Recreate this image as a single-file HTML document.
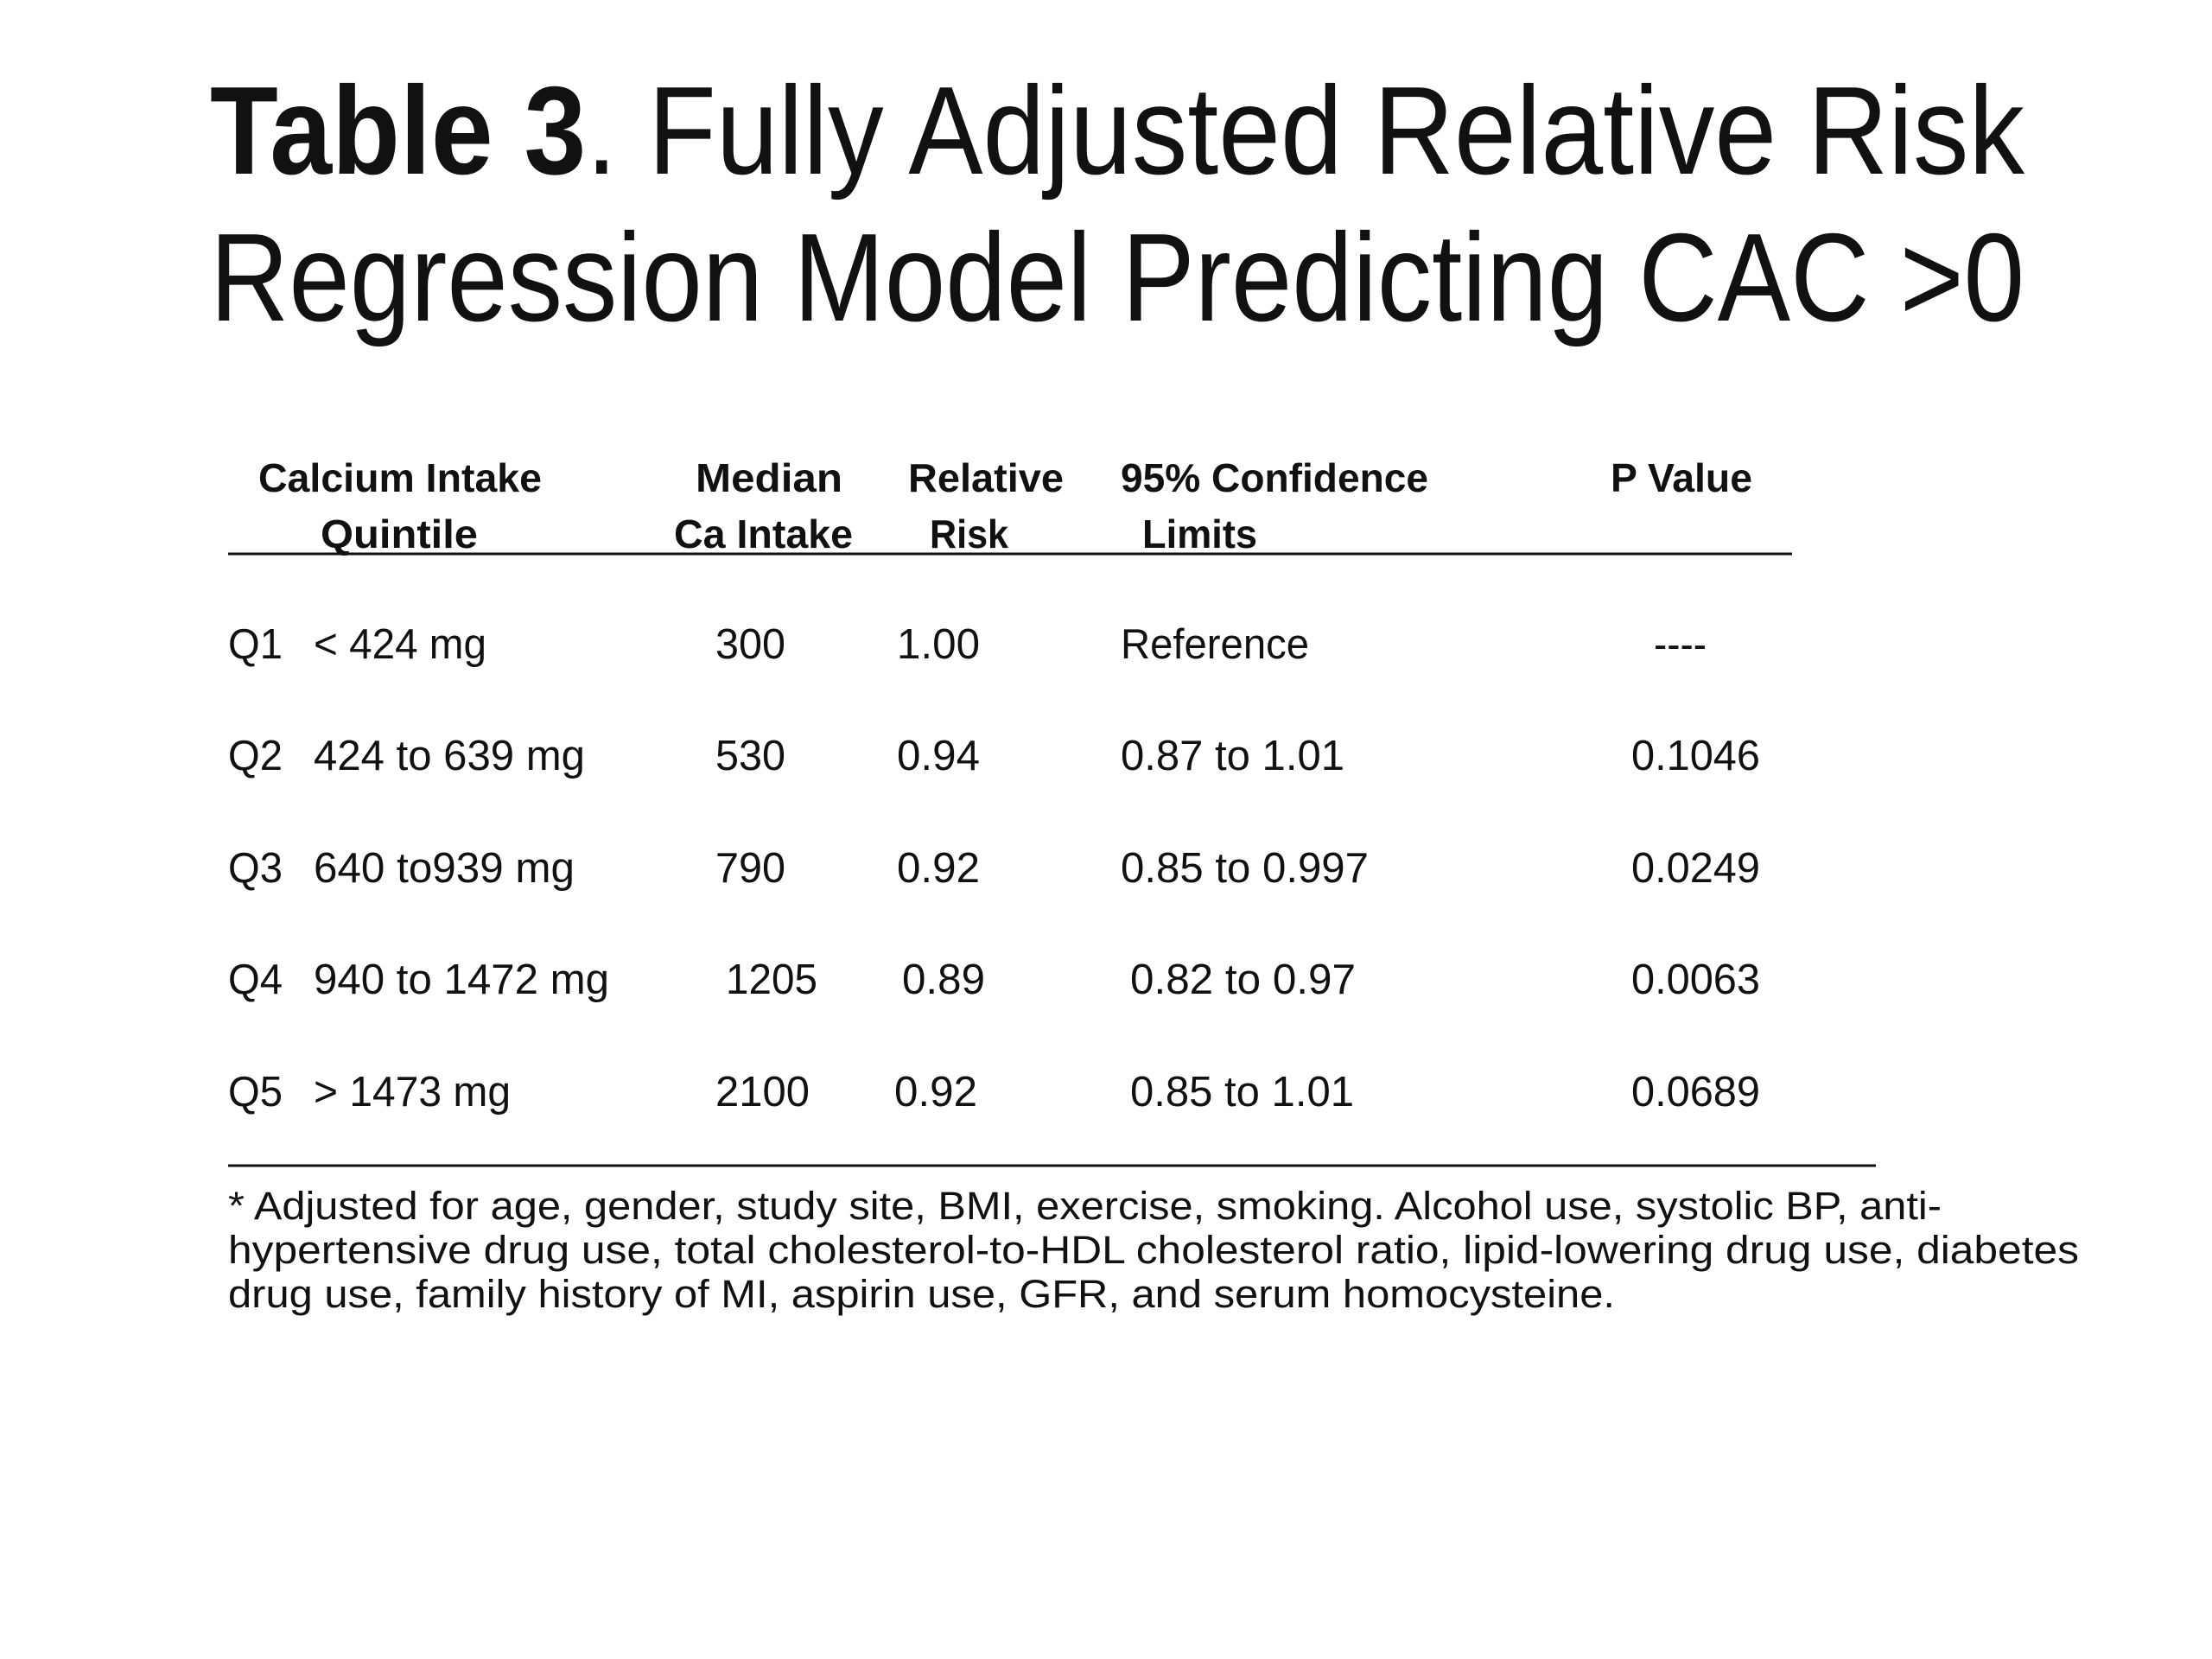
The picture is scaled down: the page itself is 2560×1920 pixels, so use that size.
<!DOCTYPE html>
<html><head><meta charset="utf-8"><style>
html,body{margin:0;padding:0;background:#fff;}
svg{display:block;}
text{font-family:"Liberation Sans",sans-serif;fill:#111;}
.h{font-weight:bold;font-size:46px;}
.d{font-size:49px;}
.f{font-size:45px;}
</style></head><body>
<svg width="2560" height="1920" viewBox="0 0 2560 1920">
<rect width="2560" height="1920" fill="#fff"/>
<text x="243" y="201" font-size="145" textLength="2100" lengthAdjust="spacingAndGlyphs"><tspan font-weight="bold">Table 3</tspan>.  Fully Adjusted Relative Risk</text>
<text x="243" y="371" font-size="145" textLength="2100" lengthAdjust="spacingAndGlyphs">Regression Model Predicting CAC &gt;0</text>

<g class="h">
<text x="299" y="569" textLength="328" lengthAdjust="spacingAndGlyphs">Calcium Intake</text>
<text x="371" y="634" textLength="182" lengthAdjust="spacingAndGlyphs">Quintile</text>
<text x="805" y="569" textLength="170" lengthAdjust="spacingAndGlyphs">Median</text>
<text x="780" y="634" textLength="207" lengthAdjust="spacingAndGlyphs">Ca Intake</text>
<text x="1051" y="569" textLength="180" lengthAdjust="spacingAndGlyphs">Relative</text>
<text x="1076" y="634" textLength="91" lengthAdjust="spacingAndGlyphs">Risk</text>
<text x="1297" y="569" textLength="356" lengthAdjust="spacingAndGlyphs">95% Confidence</text>
<text x="1322" y="634" textLength="133" lengthAdjust="spacingAndGlyphs">Limits</text>
<text x="1864" y="569" textLength="164" lengthAdjust="spacingAndGlyphs">P Value</text>
</g>
<line x1="264" y1="641" x2="2074" y2="641" stroke="#111" stroke-width="3"/>

<g class="d">
<text x="264" y="762" textLength="63" lengthAdjust="spacingAndGlyphs">Q1</text>
<text x="363" y="762" textLength="200" lengthAdjust="spacingAndGlyphs">&lt; 424 mg</text>
<text x="828" y="762" textLength="81" lengthAdjust="spacingAndGlyphs">300</text>
<text x="1038" y="762" textLength="96" lengthAdjust="spacingAndGlyphs">1.00</text>
<text x="1297" y="762" textLength="218" lengthAdjust="spacingAndGlyphs">Reference</text>
<text x="1914" y="762" textLength="61" lengthAdjust="spacingAndGlyphs">----</text>
</g>
<g class="d">
<text x="264" y="891" textLength="63" lengthAdjust="spacingAndGlyphs">Q2</text>
<text x="363" y="891" textLength="314" lengthAdjust="spacingAndGlyphs">424 to 639 mg</text>
<text x="828" y="891" textLength="81" lengthAdjust="spacingAndGlyphs">530</text>
<text x="1038" y="891" textLength="96" lengthAdjust="spacingAndGlyphs">0.94</text>
<text x="1297" y="891" textLength="259" lengthAdjust="spacingAndGlyphs">0.87 to 1.01</text>
<text x="1888" y="891" textLength="149" lengthAdjust="spacingAndGlyphs">0.1046</text>
</g>
<g class="d">
<text x="264" y="1021" textLength="63" lengthAdjust="spacingAndGlyphs">Q3</text>
<text x="363" y="1021" textLength="302" lengthAdjust="spacingAndGlyphs">640 to939 mg</text>
<text x="828" y="1021" textLength="81" lengthAdjust="spacingAndGlyphs">790</text>
<text x="1038" y="1021" textLength="96" lengthAdjust="spacingAndGlyphs">0.92</text>
<text x="1297" y="1021" textLength="287" lengthAdjust="spacingAndGlyphs">0.85 to 0.997</text>
<text x="1888" y="1021" textLength="149" lengthAdjust="spacingAndGlyphs">0.0249</text>
</g>
<g class="d">
<text x="264" y="1150" textLength="63" lengthAdjust="spacingAndGlyphs">Q4</text>
<text x="363" y="1150" textLength="342" lengthAdjust="spacingAndGlyphs">940 to 1472 mg</text>
<text x="840" y="1150" textLength="106" lengthAdjust="spacingAndGlyphs">1205</text>
<text x="1044" y="1150" textLength="96" lengthAdjust="spacingAndGlyphs">0.89</text>
<text x="1308" y="1150" textLength="261" lengthAdjust="spacingAndGlyphs">0.82 to 0.97</text>
<text x="1888" y="1150" textLength="149" lengthAdjust="spacingAndGlyphs">0.0063</text>
</g>
<g class="d">
<text x="264" y="1280" textLength="63" lengthAdjust="spacingAndGlyphs">Q5</text>
<text x="363" y="1280" textLength="228" lengthAdjust="spacingAndGlyphs">&gt; 1473 mg</text>
<text x="828" y="1280" textLength="109" lengthAdjust="spacingAndGlyphs">2100</text>
<text x="1035" y="1280" textLength="96" lengthAdjust="spacingAndGlyphs">0.92</text>
<text x="1308" y="1280" textLength="259" lengthAdjust="spacingAndGlyphs">0.85 to 1.01</text>
<text x="1888" y="1280" textLength="149" lengthAdjust="spacingAndGlyphs">0.0689</text>
</g>
<line x1="264" y1="1349" x2="2171" y2="1349" stroke="#111" stroke-width="3"/>

<g class="f">
<text x="264" y="1411" textLength="1983" lengthAdjust="spacingAndGlyphs">* Adjusted for age, gender, study site, BMI, exercise, smoking. Alcohol use, systolic BP, anti-</text>
<text x="264" y="1462" textLength="2142" lengthAdjust="spacingAndGlyphs">hypertensive drug use, total cholesterol-to-HDL cholesterol ratio, lipid-lowering drug use, diabetes</text>
<text x="264" y="1513" textLength="1605" lengthAdjust="spacingAndGlyphs">drug use, family history of MI, aspirin use, GFR, and serum homocysteine.</text>
</g>
</svg>
</body></html>
